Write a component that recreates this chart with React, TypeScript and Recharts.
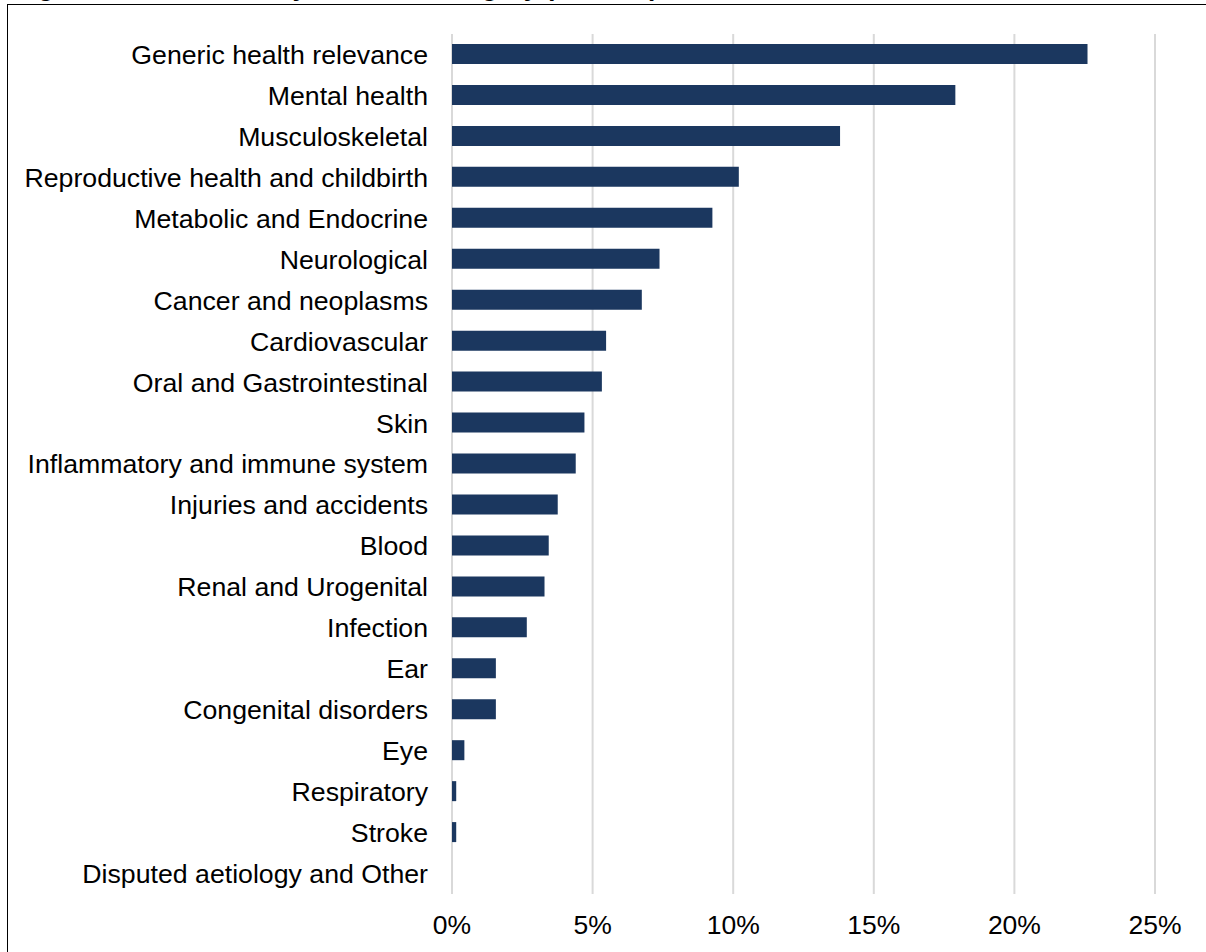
import React from "react";
import {Bar, BarChart, CartesianGrid, XAxis, YAxis} from "recharts";

// HRCS health categories, largest share first
const categories = [
    "Generic health relevance",
    "Mental health",
    "Musculoskeletal",
    "Reproductive health and childbirth",
    "Metabolic and Endocrine",
    "Neurological",
    "Cancer and neoplasms",
    "Cardiovascular",
    "Oral and Gastrointestinal",
    "Skin",
    "Inflammatory and immune system",
    "Injuries and accidents",
    "Blood",
    "Renal and Urogenital",
    "Infection",
    "Ear",
    "Congenital disorders",
    "Eye",
    "Respiratory",
    "Stroke",
    "Disputed aetiology and Other",
];

// share of total, in percent
const shares = [
    22.6, 17.9, 13.8, 10.2, 9.26, 7.38, 6.75, 5.48, 5.33, 4.71, 4.4,
    3.76, 3.44, 3.29, 2.66, 1.56, 1.56, 0.44, 0.15, 0.15, 0,
];

const xTicks = [0, 5, 10, 15, 20, 25];

const titleText = "Figure 4: Investment by research category (2018-19)";

const FONT = "'Liberation Sans', Arial, sans-serif";
const BAR_COLOR = "#1b375f";

const data = categories.map((name, i) => ({name, share: shares[i]}));

const App: React.FC = () => {
    return (
        <div style={{position: "absolute", left: 0, top: 0, width: 1206, height: 952, overflow: "hidden", background: "#fff", fontFamily: FONT}}>
            {/* title sits above the frame, mostly off the top edge */}
            <svg width={1206} height={10} style={{position: "absolute", left: 0, top: 0, overflow: "visible"}}>
                <text x={15} y={-4.5} fontFamily={FONT} fontSize={26} fontWeight="bold" fill="#000">
                    {titleText}
                </text>
            </svg>
            <div style={{position: "absolute", left: 7, top: 4, width: 1400, height: 1200, borderTop: "1.5px solid #000", borderLeft: "1.5px solid #000", boxSizing: "border-box"}}/>
            <div style={{position: "absolute", left: 0, top: 0}}>
                <BarChart width={1206}
                          height={952}
                          data={data}
                          layout="vertical"
                          margin={{top: 34, right: 51, bottom: 0, left: 0}}
                          barCategoryGap={0}
                >
                    <CartesianGrid horizontal={false}
                                   stroke="#d9d9d9"
                                   strokeWidth={2}
                    />
                    <XAxis type="number"
                           domain={[0, 25]}
                           ticks={xTicks}
                           tickFormatter={(v) => `${v}%`}
                           axisLine={false}
                           tickLine={false}
                           tickSize={0}
                           tickMargin={21}
                           height={58}
                           tick={{fill: "#000", fontSize: 26.5, fontFamily: FONT}}
                           interval={0}
                    />
                    <YAxis type="category"
                           dataKey="name"
                           width={452}
                           axisLine={false}
                           tickLine={false}
                           tickSize={0}
                           tickMargin={24}
                           interval={0}
                           tick={{fill: "#000", fontSize: 26.7, fontFamily: FONT}}
                    />
                    <Bar dataKey="share"
                         fill={BAR_COLOR}
                         barSize={20}
                         isAnimationActive={false}
                    />
                </BarChart>
            </div>
        </div>
    );
}

export default App;
